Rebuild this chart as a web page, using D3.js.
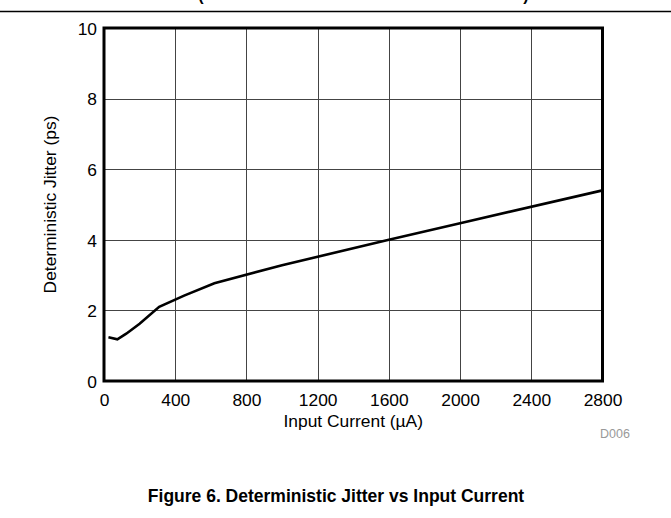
<!DOCTYPE html>
<html>
<head>
<meta charset="utf-8">
<script src="https://cdn.jsdelivr.net/npm/d3@7"></script>
<style>
  html, body { margin: 0; padding: 0; background: #fff; }
  svg { display: block; font-family: "Liberation Sans", Arial, sans-serif; }
</style>
</head>
<body>
<svg id="chart" width="671" height="518"></svg>
<script>
// Data
const currentUA = [25, 75, 125, 200, 310, 450, 620, 1000, 1600, 2000, 2800];
const jitterPs  = [1.24, 1.18, 1.34, 1.62, 2.1, 2.42, 2.77, 3.28, 4.0, 4.47, 5.4];
const xTicks = [0, 400, 800, 1200, 1600, 2000, 2400, 2800];
const yTicks = [0, 2, 4, 6, 8, 10];
const xTitle = "Input Current (\u00b5A)";
const yTitle = "Deterministic Jitter (ps)";
const caption = "Figure 6. Deterministic Jitter vs Input Current";
const code = "D006";

const FS = 17.4;
const svg = d3.select("#chart");
const L = 104, R = 602.5, T = 28, B = 381;
const x = d3.scaleLinear().domain([0, 2800]).range([L, R]);
const y = d3.scaleLinear().domain([0, 10]).range([B, T]);

// cut-off title remnants and rule at top (as in the reference)
svg.append("text").attr("x", 201).attr("y", 1).attr("text-anchor", "middle")
  .attr("font-size", 16).attr("font-weight", "bold").text("(");
svg.append("text").attr("x", 526).attr("y", 1).attr("text-anchor", "middle")
  .attr("font-size", 16).attr("font-weight", "bold").text(")");
svg.append("line").attr("x1", 0).attr("x2", 671).attr("y1", 11.5).attr("y2", 11.5)
  .attr("stroke", "#000").attr("stroke-width", 1.5);

// grid
const grid = svg.append("g");
grid.selectAll(".gx").data(xTicks.slice(1, -1)).join("line")
  .attr("x1", d => Math.round(x(d)) + 0.5).attr("x2", d => Math.round(x(d)) + 0.5)
  .attr("y1", T).attr("y2", B).attr("stroke", "#444").attr("stroke-width", 1);
grid.selectAll(".gy").data(yTicks.slice(1, -1)).join("line")
  .attr("y1", d => Math.round(y(d)) + 0.5).attr("y2", d => Math.round(y(d)) + 0.5)
  .attr("x1", L).attr("x2", R).attr("stroke", "#444").attr("stroke-width", 1);

// axes (labels only)
const xAxis = d3.axisBottom(x).tickValues(xTicks).tickFormat(d3.format("d")).tickSize(0).tickPadding(0);
const gx = svg.append("g").attr("transform", `translate(0,${B})`).call(xAxis)
  .attr("font-size", FS).attr("font-family", null);
gx.select(".domain").remove();
gx.selectAll("text").attr("fill", "#000").attr("dy", null).attr("y", 25);

const yAxis = d3.axisLeft(y).tickValues(yTicks).tickFormat(d3.format("d")).tickSize(0).tickPadding(0);
const gy = svg.append("g").attr("transform", `translate(${L},0)`).call(yAxis)
  .attr("font-size", FS).attr("font-family", null);
gy.select(".domain").remove();
gy.selectAll("text").attr("fill", "#000").attr("x", -7).attr("dy", "0.36em");

// line
const line = d3.line().x((d, i) => x(currentUA[i])).y(d => y(d));
svg.append("path").datum(jitterPs).attr("d", line)
  .attr("fill", "none").attr("stroke", "#000").attr("stroke-width", 2.6)
  .attr("stroke-linejoin", "miter");

// frame
svg.append("rect").attr("x", L).attr("y", T).attr("width", R - L).attr("height", B - T)
  .attr("fill", "none").attr("stroke", "#000").attr("stroke-width", 3);

// titles
svg.append("text").attr("x", (L + R) / 2).attr("y", 427).attr("text-anchor", "middle")
  .attr("font-size", FS).text(xTitle);
svg.append("text").attr("transform", `translate(56,${(T + B) / 2}) rotate(-90)`)
  .attr("text-anchor", "middle").attr("font-size", FS).text(yTitle);
svg.append("text").attr("x", 615).attr("y", 438).attr("text-anchor", "middle")
  .attr("font-size", 12.5).attr("fill", "#999").text(code);
svg.append("text").attr("x", 336).attr("y", 502).attr("text-anchor", "middle")
  .attr("font-size", 17.5).attr("font-weight", "bold").text(caption);
</script>
</body>
</html>
